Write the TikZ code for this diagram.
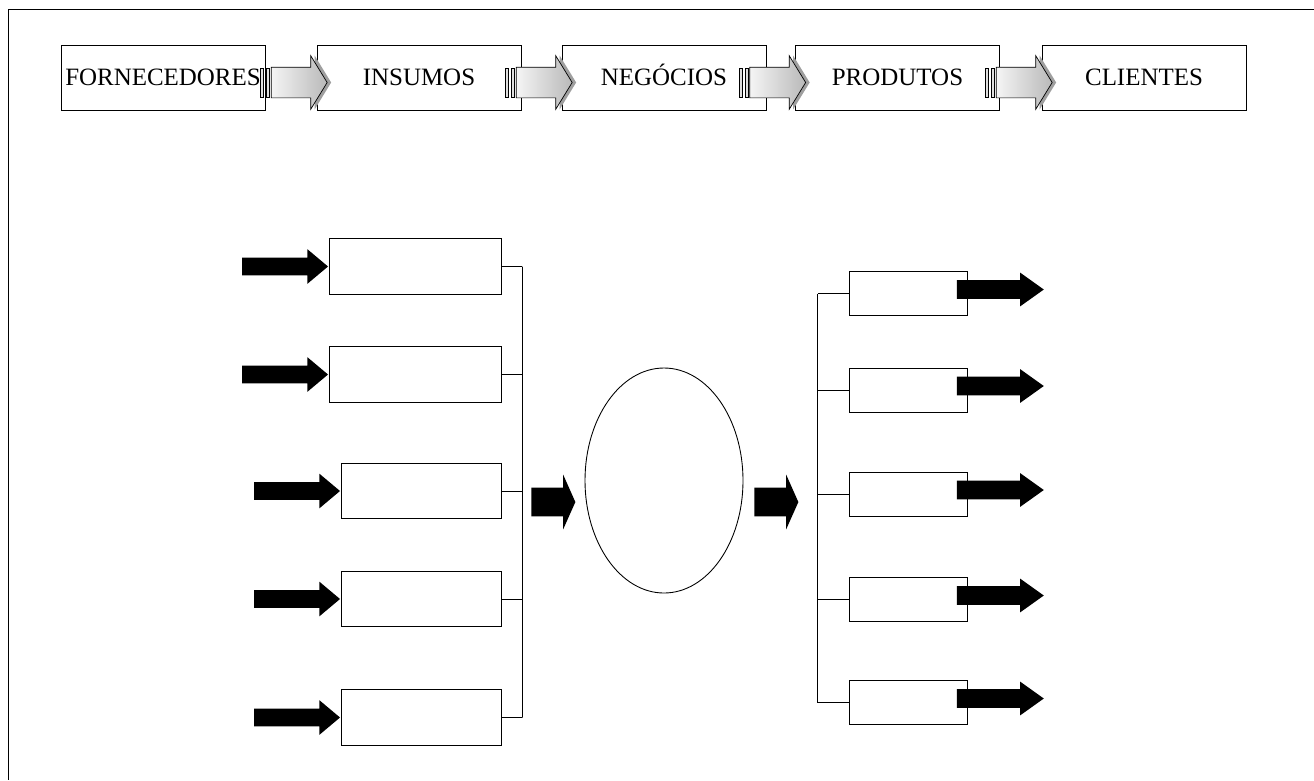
\documentclass[tikz,border=0pt]{standalone}
\usepackage{fontspec}
\setmainfont{Liberation Serif}
\usepackage{tikz}
\usetikzlibrary{shapes.geometric, shapes.arrows, positioning, calc}

\begin{document}
\begin{tikzpicture}[
  x=0.2mm, y=-0.2mm,
  stage/.style={draw, line width=0.5pt, rectangle, minimum width=40.8mm, minimum height=13mm, inner sep=0pt, text height=9.3pt, text depth=0pt, font=\fontsize{14.2pt}{16pt}\selectfont},
  inbox/.style={draw, line width=0.5pt, rectangle, minimum height=11.1mm, inner sep=0pt},
  outbox/.style={draw, line width=0.5pt, rectangle, minimum width=23.6mm, minimum height=8.8mm, inner sep=0pt},
  flowshape/.style={single arrow, inner xsep=0pt, inner ysep=3mm, single arrow head extend=2.3mm, single arrow tip angle=117, minimum height=11.2mm},
  flow/.style={flowshape, draw, line width=0.4pt, left color=gray!8, right color=gray!55},
  flowshadow/.style={flowshape, fill=gray!75},
  stripe/.style={draw, line width=0.4pt, fill=gray!25, minimum width=0.6mm, minimum height=5.8mm, inner sep=0pt},
  inarrow/.style={single arrow, fill=black, inner xsep=0pt, inner ysep=1.7mm, single arrow head extend=1.7mm, single arrow tip angle=80, minimum height=17.2mm},
  outarrow/.style={single arrow, fill=black, inner xsep=0pt, inner ysep=1.8mm, single arrow head extend=1.5mm, single arrow tip angle=71, minimum height=17.4mm},
  bigarrow/.style={single arrow, fill=black, inner xsep=0pt, inner ysep=2.8mm, single arrow head extend=2.6mm, single arrow tip angle=132, minimum height=8.8mm},
  link/.style={line width=0.5pt}
]
\useasboundingbox (0,0) rectangle (1314,780);

% frame
\draw[link] (1314,9) -- (8,9) -- (8,780);

% chain along the top
\node[stage] (forn) at (163,77.5) {FORNECEDORES};
\node[stage] (ins) at (419,77.5) {INSUMOS};
\node[stage] (neg) at (664,77.5) {NEGÓCIOS};
\node[stage] (prod) at (897.5,77.5) {PRODUTOS};
\node[stage] (cli) at (1144,77.5) {CLIENTES};

\foreach \a/\b in {forn/ins, ins/neg, neg/prod, prod/cli} {
  \node[flowshadow, anchor=tip] at ($(\b.west)+(15,5)$) {};
  \node[flow, anchor=tip] (fa-\a) at ($(\b.west)+(11,5)$) {};
  \node[stripe, anchor=east] (sa-\a) at ($(fa-\a.tail)+(-1,0)$) {};
  \node[stripe, anchor=east] (sb-\a) at ($(sa-\a.west)+(-2,0)$) {};
}

% inputs
\node[inbox, minimum width=34.4mm] (lb1) at (415,266.5) {};
\node[inbox, minimum width=34.4mm] (lb2) at (415,374.5) {};
\node[inbox, minimum width=32mm] (lb3) at (421,491) {};
\node[inbox, minimum width=32mm] (lb4) at (421,599) {};
\node[inbox, minimum width=32mm] (lb5) at (421,717.5) {};

\foreach \i in {1,...,5}
  \node[inarrow, anchor=tip] (ia\i) at (lb\i.west) {};

% core
\node[draw, line width=0.5pt, ellipse, minimum width=31.6mm, minimum height=45mm, inner sep=0pt] (core) at (664,480.5) {};
\node[bigarrow, anchor=tail] (ma1) at (531,502) {};
\node[bigarrow, anchor=tail] (ma2) at (754,502) {};

% outputs
\node[outbox] (ob1) at (908,293.5) {};
\node[outbox] (ob2) at (908,390) {};
\node[outbox] (ob3) at (908,494) {};
\node[outbox] (ob4) at (908,599.5) {};
\node[outbox] (ob5) at (908,702.5) {};

\foreach \i in {1,...,5}
  \node[outarrow, anchor=tail] (oa\i) at ($(ob\i.east)+(-11,-4)$) {};

% brackets
\draw[link] (lb1.east) -- ++(21,0) coordinate (lt);
\draw[link] (lb5.east) -- ++(21,0) coordinate (lbt);
\draw[link] (lt) -- (lbt);
\foreach \i in {2,3,4}
  \draw[link] (lb\i.east) -- ++(21,0);

\draw[link] (ob1.west) -- ++(-31,0) coordinate (rt);
\draw[link] (ob5.west) -- ++(-31,0) coordinate (rbt);
\draw[link] (rt) -- (rbt);
\foreach \i in {2,3,4}
  \draw[link] (ob\i.west) -- ++(-31,0);

\end{tikzpicture}
\end{document}
